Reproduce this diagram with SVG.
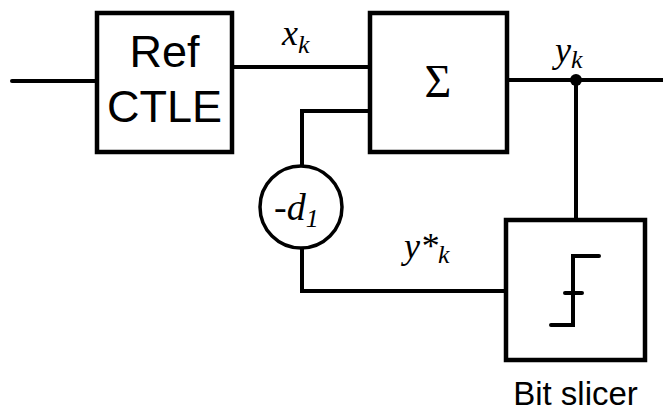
<svg xmlns="http://www.w3.org/2000/svg" width="663" height="412" viewBox="0 0 663 412">
<style>
.blk{fill:#fff;stroke:#000;stroke-width:4.5}
.w{fill:none;stroke:#000;stroke-width:4;stroke-linecap:round;stroke-linejoin:miter}
.sans{font-family:"Liberation Sans",Arial,sans-serif;fill:#000}
.ser{font-family:"Liberation Serif","Times New Roman",serif;fill:#000;font-style:italic}
</style>
<rect width="663" height="412" fill="#fff"/>
<g id="connectors">
<path class="w" d="M12 81H97"/>
<path class="w" d="M232 67H370"/>
<path class="w" d="M370 111H302V166"/>
<path class="w" d="M302 248V291H506"/>
<path class="w" d="M507 80H663"/>
<path class="w" d="M576 80V220"/>
<circle cx="576" cy="80" r="6" fill="#000"/>
</g>
<g id="ctle">
<rect class="blk" x="97" y="13" width="135" height="139"/>
<text class="sans" x="164.5" y="67" font-size="45" text-anchor="middle">Ref</text>
<text class="sans" x="164.5" y="122" font-size="45" text-anchor="middle">CTLE</text>
</g>
<g id="sum">
<rect class="blk" x="370" y="13" width="137" height="139"/>
<text x="438" y="97" font-family="Liberation Serif,'Times New Roman',serif" font-size="46" text-anchor="middle">Σ</text>
</g>
<g id="gain">
<circle cx="301" cy="207" r="41" fill="#fff" stroke="#000" stroke-width="3.5"/>
<text class="ser" x="274" y="220" font-size="38">-d<tspan font-size="26" dy="7">1</tspan></text>
</g>
<g id="slicer">
<rect class="blk" x="506" y="220" width="139" height="140"/>
<path class="w" d="M551 325H573V256H599M565 293H582"/>
<text class="sans" x="575.5" y="405" font-size="33" text-anchor="middle">Bit slicer</text>
</g>
<g id="labels">
<text class="ser" x="282" y="45" font-size="36">x<tspan font-size="26" dy="8">k</tspan></text>
<text class="ser" x="555" y="62" font-size="36">y<tspan font-size="26" dy="6">k</tspan></text>
<text class="ser" x="404" y="258" font-size="36">y*<tspan font-size="26" dy="5">k</tspan></text>
</g>
</svg>
